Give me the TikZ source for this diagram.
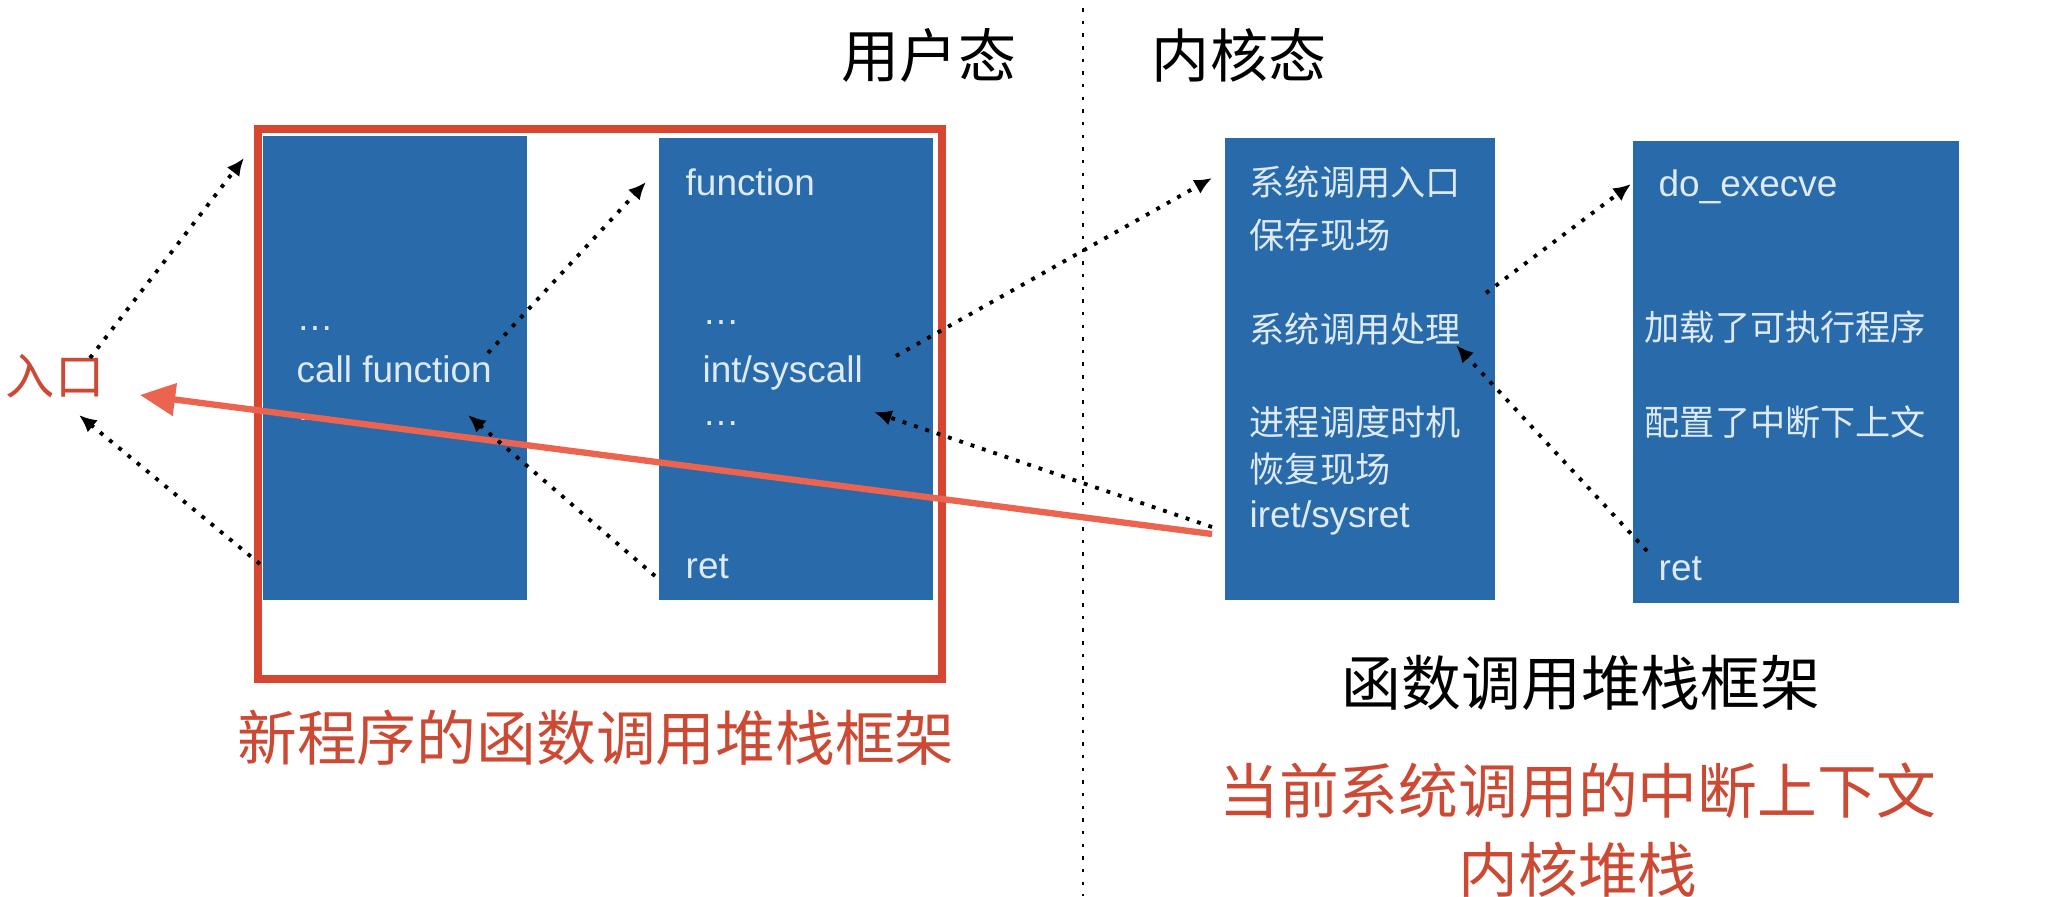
\documentclass[tikz,border=0pt]{standalone}
\usepackage{fontspec}
\setmainfont{Liberation Sans}
\newfontfamily\cjk{Noto Sans CJK SC}
\usetikzlibrary{arrows.meta}
\definecolor{stackblue}{RGB}{40,106,170}
\definecolor{framered}{RGB}{214,70,48}
\definecolor{jumpred}{RGB}{234,100,80}
\definecolor{captred}{RGB}{204,74,52}
\definecolor{inwhite}{RGB}{222,234,246}
\tikzset{
	stack/.style={fill=stackblue,draw=none,inner sep=0pt},
	lat/.style={text=inwhite,anchor=west,inner sep=0pt,font=\fontsize{10.5}{13}\selectfont},
	han/.style={text=inwhite,anchor=west,inner sep=0pt,font=\cjk\fontsize{10}{12}\selectfont},
	title/.style={inner sep=0pt,font=\cjk\fontsize{16.5}{19}\selectfont},
	hop/.style={line width=1.1pt,dash pattern=on 1.1pt off 2.3pt,-{Latex[length=5pt,width=4.5pt]}},
}
\begin{document}
\begin{tikzpicture}[x=0.01cm,y=-0.01cm]
	\useasboundingbox (0,0) rectangle (2066,896);
	% stack frames
	\node[stack,minimum width=2.63cm,minimum height=4.64cm] (caller) at (395,368) {};
	\node[stack,minimum width=2.74cm,minimum height=4.62cm] (callee) at (796,369) {};
	\node[stack,minimum width=2.70cm,minimum height=4.62cm] (sysent) at (1360,369) {};
	\node[stack,minimum width=3.25cm,minimum height=4.62cm] (execve) at (1796,372) {};
	\draw[framered,line width=2.4pt] (258,129) rectangle (942,679);
	\draw[line width=0.8pt,dash pattern=on 1pt off 2.6pt] (1083,8)--(1083,896);
	% user mode
	\node[lat] (ca1) at (296,329) {\ldots};
	\node[lat] (ca2) at (296,369) {call function};
	\node[lat] (ca3) at (296,419) {\ldots};
	\node[lat] (ce1) at (685,182) {function};
	\node[lat] (ce2) at (702,323) {\ldots};
	\node[lat] (ce3) at (702,373) {int/syscall};
	\node[lat] (ce4) at (702,424) {\ldots};
	\node[lat] (ce5) at (685,567) {ret};
	% kernel mode
	\foreach \n/\y/\t in {s1/182/系统调用入口,s2/235/保存现场,s3/329/系统调用处理,s4/422/进程调度时机,s5/469/恢复现场}
		\node[han] (\n) at (1249,\y) {\t};
	\node[lat] (s6) at (1249,518) {iret/sysret};
	\node[lat] (e1) at (1658,187) {do\_execve};
	\node[han] (e2) at (1644,327) {加载了可执行程序};
	\node[han] (e3) at (1644,422) {配置了中断下上文};
	\node[lat] (e4) at (1658,569) {ret};
	% titles
	\node[title] (um) at (929,55) {用户态};
	\node[title] (km) at (1239,55) {内核态};
	\node[title,font=\cjk\fontsize{14}{16}\selectfont,text=captred] (entry) at (55,376) {入口};
	\node[title,font=\cjk\fontsize{17}{20}\selectfont,text=captred] (newfr) at (596,738) {新程序的函数调用堆栈框架};
	\node[title,font=\cjk\fontsize{17}{20}\selectfont] (frame) at (1581,683) {函数调用堆栈框架};
	\node[title,font=\cjk\fontsize{17}{20}\selectfont,text=captred] (ctx) at (1578,791) {当前系统调用的中断上下文};
	\node[title,font=\cjk\fontsize{17}{20}\selectfont,text=captred] (kst) at (1578,870) {内核堆栈};
	% arrow ends
	\path
	(260,564) coordinate (P1) (79,415) coordinate (Q1)
	(90,358) coordinate (P2) (244,158) coordinate (Q2)
	(488,353) coordinate (P3) (646,182) coordinate (Q3)
	(655,576) coordinate (P4) (468,415) coordinate (Q4)
	(896,356) coordinate (P5) (1212,178) coordinate (Q5)
	(1212,527) coordinate (P6) (874,412) coordinate (Q6)
	(1486,293) coordinate (P7) (1631,184) coordinate (Q7)
	(1647,551) coordinate (P8) (1456,345) coordinate (Q8)
	(1212,534) coordinate (R) (140,395) coordinate (L)
	;
	\draw[jumpred,line width=1.8pt,-{Triangle[length=10pt,width=9pt]}] (R)--(L);
	\foreach \i in {1,...,8}\draw[hop] (P\i)--(Q\i);
\end{tikzpicture}
\end{document}
